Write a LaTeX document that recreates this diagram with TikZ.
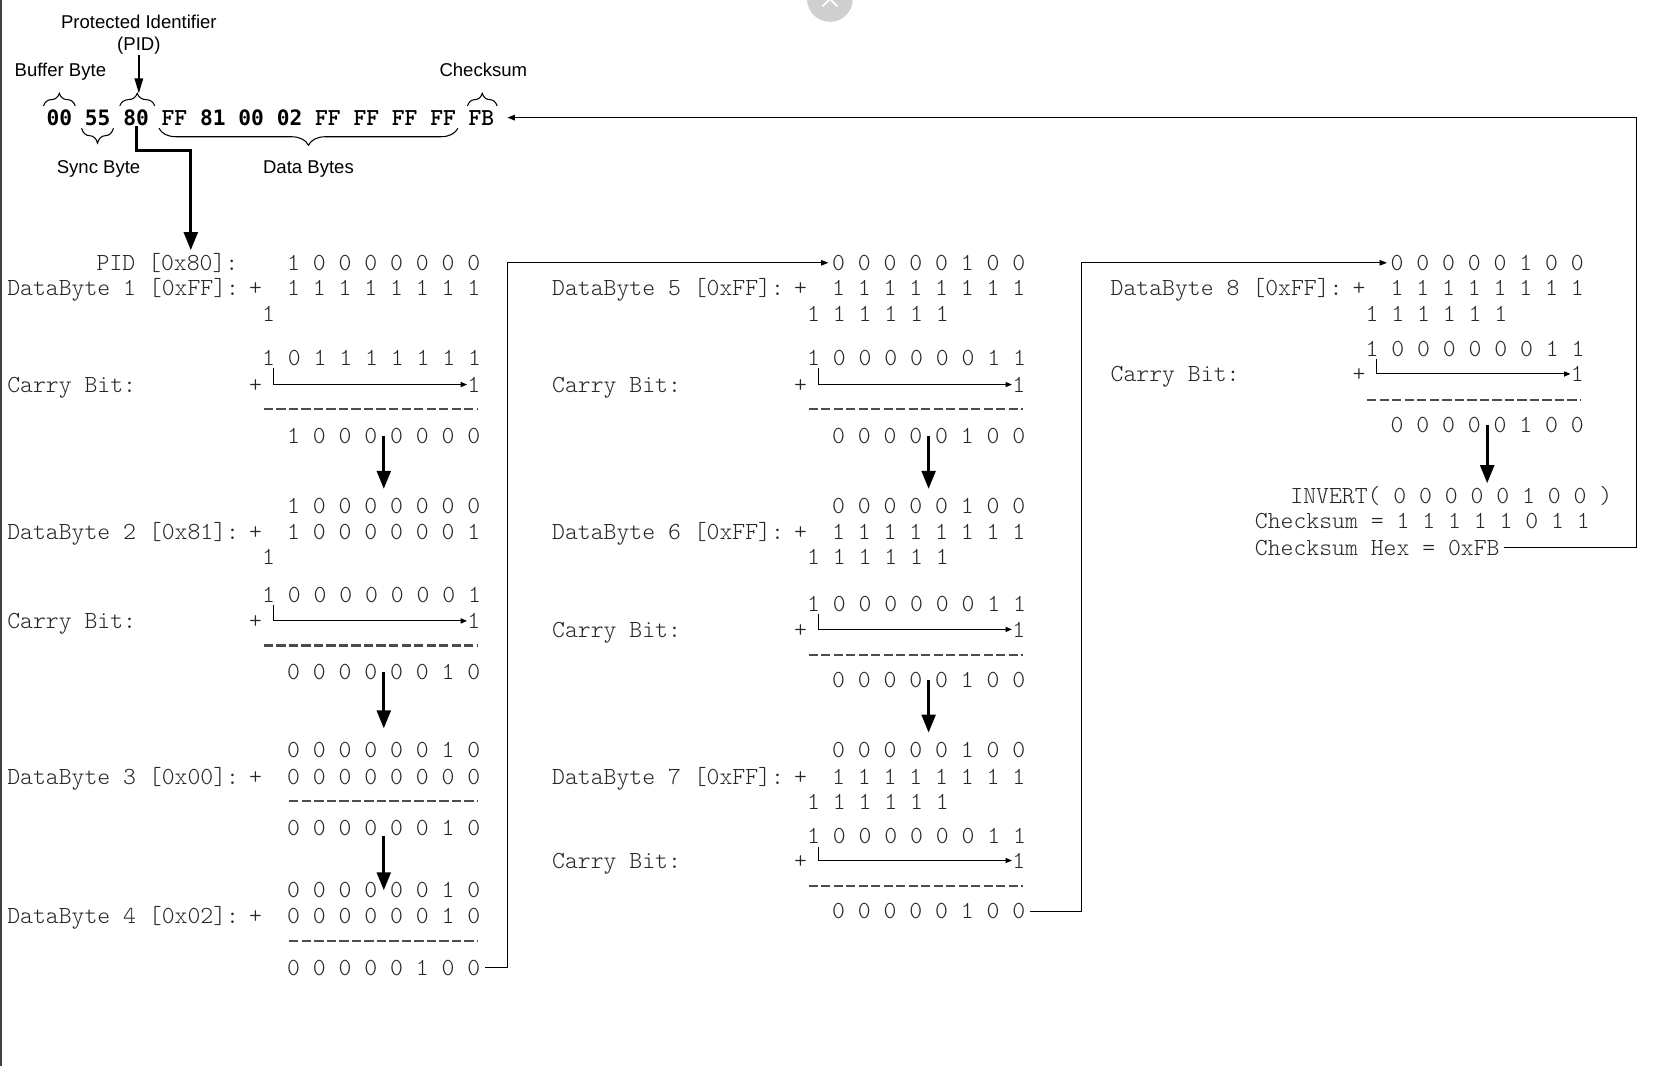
\documentclass[tikz,border=0pt]{standalone}
\usepackage{fontspec}
\setmainfont{Liberation Sans}
\newfontfamily\codefont{lmmonolt10-regular.otf}[BoldFont=lmmonolt10-bold.otf]
\newfontfamily\digfont{DejaVu Sans Mono}
\usetikzlibrary{arrows.meta,decorations.pathreplacing}
\frenchspacing

\begin{document}
\begin{tikzpicture}[x=0.5pt,y=-0.5pt,
        code/.style={font=\codefont\fontsize{11.57}{13}\selectfont, text=black!85, inner sep=0pt},
        lbl/.style={code, anchor=base west},
        lblr/.style={code, anchor=base east},
        bitsr/.style={code, anchor=base east},
        bitsl/.style={code, anchor=base west},
        pl/.style={code, anchor=base},
        note/.style={font=\fontsize{8.75}{10}\selectfont, anchor=base, inner sep=0pt},
        bytedig/.style={font=\digfont\bfseries\fontsize{10}{12}\selectfont, anchor=base, inner sep=0pt},
        bytehex/.style={font=\codefont\bfseries\fontsize{11.5}{12}\selectfont, anchor=base, inner sep=0pt},
        brup/.style={decorate, decoration={brace, amplitude=6pt}, line width=0.5pt},
        brdown/.style={decorate, decoration={brace, amplitude=7pt}, line width=0.5pt},
        brdata/.style={decorate, decoration={brace, amplitude=8pt}, line width=0.5pt},
        pidarr/.style={line width=0.7pt, -{Triangle[length=7pt,width=4pt]}},
        big/.style={line width=1.4pt, -{Triangle[length=8.5pt,width=6.5pt]}},
        link/.style={line width=0.5pt, -{Triangle[length=3.5pt,width=2.6pt]}},
        carry/.style={line width=0.5pt, -{Triangle[length=3pt,width=2.4pt]}, shorten <=1pt},
        sumline/.style={line width=1pt, black!70, dash pattern=on 4.3pt off 1.6pt}]

        \fill[white] (0,0) rectangle (1568,1006);
        \useasboundingbox (0,0) rectangle (1568,1006);
        \draw[line width=1pt, black!75] (1,0) -- (1,1006);
        \fill[black!19] (783,-1) circle[radius=21.6];
        \draw[white, line width=0.9pt] (776,-8) -- (790,6) (790,-8) -- (776,6);

        % frame bytes
        \foreach \v/\s [count=\i from 0] in {00/bytedig,55/bytedig,80/bytedig,FF/bytehex,81/bytedig,00/bytedig,02/bytedig,FF/bytehex,FF/bytehex,FF/bytehex,FF/bytehex,FB/bytehex}
            \node[\s] (b\i) at (56+36.2*\i,118) {\v};

        \draw[brup] (41,100) -- (71,100);
        \draw[brdown] (107,121) -- (77,121);
        \draw[brup] (113,100) -- (146,100);
        \draw[brdata] (432,121) -- (150,121);
        \draw[brup] (441,100) -- (469,100);

        \node[note] (lprot) at (131,27) {Protected Identifier};
        \node[note] (lpid) at (131,48) {(PID)};
        \node[note] (lbuf) at (57,72) {Buffer Byte};
        \node[note] (lcks) at (456,72) {Checksum};
        \node[note] (lsync) at (93,164) {Sync Byte};
        \node[note] (ldata) at (291,164) {Data Bytes};

        \coordinate (pidtip) at (131,88);
        \coordinate (pidin) at (180,236);
        \draw[pidarr] (lpid.south) -- (pidtip);
        \draw[big] (b2.south) -- ++(0,23) -| (pidin);

        % column 1
        \node[lblr] (pid) at (225.2,255) {PID [0x80]:};
        \node[bitsr] (pidv) at (453.6,255) {1 0 0 0 0 0 0 0};
        \node[lbl] (d1) at (6.5,279) {DataByte 1 [0xFF]:};
        \node[pl] (d1p) at (241.2,279) {+};
        \node[bitsr] (d1v) at (453.6,279) {1 1 1 1 1 1 1 1};
        \node[bitsl] (k1) at (247,303) {1};
        \node[bitsl] (s1) at (247,345) {1 0 1 1 1 1 1 1 1};
        \node[lbl] (cb1) at (6.5,370) {Carry Bit:};
        \node[pl] (cb1p) at (241.2,370) {+};
        \node[bitsr] (cb1v) at (453.6,370) {1};
        \draw[sumline] (249,386) -- (451,386);
        \node[bitsr] (r1) at (453.6,418) {1 0 0 0 0 0 0 0};

        \node[bitsr] (a2) at (453.6,484) {1 0 0 0 0 0 0 0};
        \node[lbl] (d2) at (6.5,509) {DataByte 2 [0x81]:};
        \node[pl] (d2p) at (241.2,509) {+};
        \node[bitsr] (d2v) at (453.6,509) {1 0 0 0 0 0 0 1};
        \node[bitsl] (k2) at (247,533) {1};
        \node[bitsl] (s2) at (247,568) {1 0 0 0 0 0 0 0 1};
        \node[lbl] (cb2) at (6.5,593) {Carry Bit:};
        \node[pl] (cb2p) at (241.2,593) {+};
        \node[bitsr] (cb2v) at (453.6,593) {1};
        \draw[sumline] (249,609) -- (451,609);
        \node[bitsr] (r2) at (453.6,641) {0 0 0 0 0 0 1 0};

        \node[bitsr] (a3) at (453.6,715) {0 0 0 0 0 0 1 0};
        \node[lbl] (d3) at (6.5,740) {DataByte 3 [0x00]:};
        \node[pl] (d3p) at (241.2,740) {+};
        \node[bitsr] (d3v) at (453.6,740) {0 0 0 0 0 0 0 0};
        \draw[sumline] (273,756) -- (451,756);
        \node[bitsr] (r3) at (453.6,788) {0 0 0 0 0 0 1 0};

        \node[bitsr] (a4) at (453.6,847) {0 0 0 0 0 0 1 0};
        \node[lbl] (d4) at (6.5,871) {DataByte 4 [0x02]:};
        \node[pl] (d4p) at (241.2,871) {+};
        \node[bitsr] (d4v) at (453.6,871) {0 0 0 0 0 0 1 0};
        \draw[sumline] (273,888) -- (451,888);
        \node[bitsr] (r4) at (453.6,920) {0 0 0 0 0 1 0 0};

        % column 2
        \node[bitsr] (e0) at (967.6,255) {0 0 0 0 0 1 0 0};
        \node[lbl] (d5) at (520.5,279) {DataByte 5 [0xFF]:};
        \node[pl] (d5p) at (755.2,279) {+};
        \node[bitsr] (d5v) at (967.6,279) {1 1 1 1 1 1 1 1};
        \node[bitsl] (k5) at (761,303) {1 1 1 1 1 1};
        \node[bitsl] (s5) at (761,345) {1 0 0 0 0 0 0 1 1};
        \node[lbl] (cb5) at (520.5,370) {Carry Bit:};
        \node[pl] (cb5p) at (755.2,370) {+};
        \node[bitsr] (cb5v) at (967.6,370) {1};
        \draw[sumline] (763,386) -- (965,386);
        \node[bitsr] (r5) at (967.6,418) {0 0 0 0 0 1 0 0};

        \node[bitsr] (a6) at (967.6,484) {0 0 0 0 0 1 0 0};
        \node[lbl] (d6) at (520.5,509) {DataByte 6 [0xFF]:};
        \node[pl] (d6p) at (755.2,509) {+};
        \node[bitsr] (d6v) at (967.6,509) {1 1 1 1 1 1 1 1};
        \node[bitsl] (k6) at (761,533) {1 1 1 1 1 1};
        \node[bitsl] (s6) at (761,577) {1 0 0 0 0 0 0 1 1};
        \node[lbl] (cb6) at (520.5,601) {Carry Bit:};
        \node[pl] (cb6p) at (755.2,601) {+};
        \node[bitsr] (cb6v) at (967.6,601) {1};
        \draw[sumline] (763,618) -- (965,618);
        \node[bitsr] (r6) at (967.6,649) {0 0 0 0 0 1 0 0};

        \node[bitsr] (a7) at (967.6,715) {0 0 0 0 0 1 0 0};
        \node[lbl] (d7) at (520.5,740) {DataByte 7 [0xFF]:};
        \node[pl] (d7p) at (755.2,740) {+};
        \node[bitsr] (d7v) at (967.6,740) {1 1 1 1 1 1 1 1};
        \node[bitsl] (k7) at (761,764) {1 1 1 1 1 1};
        \node[bitsl] (s7) at (761,796) {1 0 0 0 0 0 0 1 1};
        \node[lbl] (cb7) at (520.5,819) {Carry Bit:};
        \node[pl] (cb7p) at (755.2,819) {+};
        \node[bitsr] (cb7v) at (967.6,819) {1};
        \draw[sumline] (763,836) -- (965,836);
        \node[bitsr] (r7) at (967.6,867) {0 0 0 0 0 1 0 0};

        % column 3
        \node[bitsr] (g0) at (1494.6,255) {0 0 0 0 0 1 0 0};
        \node[lbl] (d8) at (1047.5,279) {DataByte 8 [0xFF]:};
        \node[pl] (d8p) at (1282.2,279) {+};
        \node[bitsr] (d8v) at (1494.6,279) {1 1 1 1 1 1 1 1};
        \node[bitsl] (k8) at (1288,303) {1 1 1 1 1 1};
        \node[bitsl] (s8) at (1288,336) {1 0 0 0 0 0 0 1 1};
        \node[lbl] (cb8) at (1047.5,360) {Carry Bit:};
        \node[pl] (cb8p) at (1282.2,360) {+};
        \node[bitsr] (cb8v) at (1494.6,360) {1};
        \draw[sumline] (1290,377) -- (1492,377);
        \node[bitsr] (r8) at (1494.6,408) {0 0 0 0 0 1 0 0};

        \node[lbl] (inv) at (1217,475) {INVERT( 0 0 0 0 0 1 0 0 )};
        \node[lbl] (cks) at (1183.5,499) {Checksum = 1 1 1 1 1 0 1 1};
        \node[lbl] (hex) at (1183.5,524) {Checksum Hex = 0xFB};

        % carry bits
        \foreach \s/\v in {s1/cb1v,s2/cb2v,s5/cb5v,s6/cb6v,s7/cb7v,s8/cb8v}
            \draw[carry] ([xshift=5.5pt]\s.south west) |- (\v.west);

        % running sums
        \draw[big, shorten >=4pt] (r1.center) -- (a2.north);
        \draw[big, shorten >=6.5pt] (r2.center) -- (a3.north);
        \draw[big] (r3.south) -- (a4.center);
        \draw[big, shorten >=4pt] (r5.center) -- (a6.north);
        \draw[big, shorten >=4.5pt] (r6.center) -- (a7.north);
        \draw[big, shorten >=1.3pt] (r8.center) -- (r8.center |- inv.north);

        \draw[link] ([xshift=2pt]r4.east) -- ++(21,0) |- ([xshift=-1.5pt]e0.west);
        \draw[link] ([xshift=2pt]r7.east) -- ++(49,0) |- ([xshift=-1.5pt]g0.west);
        \draw[link] ([xshift=2pt]hex.east) -- ++(124.5,0) |- ([xshift=6pt]b11.east);
    \end{tikzpicture}
\end{document}
